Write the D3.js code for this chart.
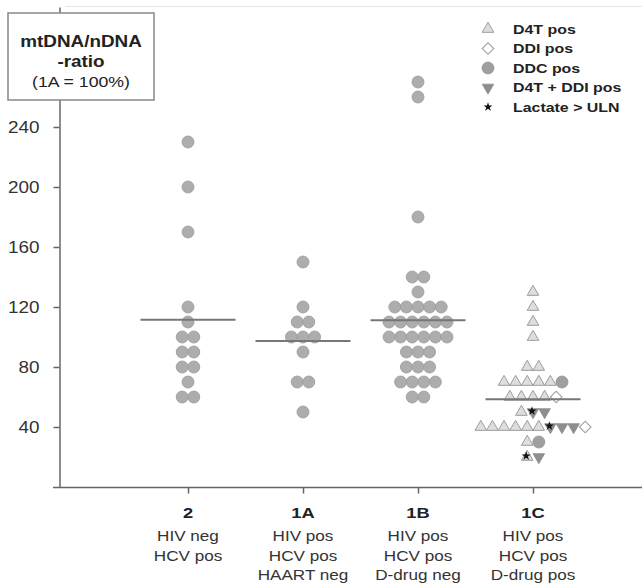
<!DOCTYPE html>
<html>
<head>
<meta charset="utf-8">
<script src="https://cdnjs.cloudflare.com/ajax/libs/d3/7.8.5/d3.min.js"></script>
<style>
  body { margin: 0; background: #fff; }
  svg { display: block; font-family: "Liberation Sans", Arial, sans-serif; }
</style>
</head>
<body>
<div id="chart"></div>
<script>
// categories + labels
const groups = ["2", "1A", "1B", "1C"]
const groupLines = [
  ["HIV neg", "HCV pos"],
  ["HIV pos", "HCV pos", "HAART neg"],
  ["HIV pos", "HCV pos", "D-drug neg"],
  ["HIV pos", "HCV pos", "D-drug pos"]
]
const yTicks = [40, 80, 120, 160, 200, 240]

// mtDNA/nDNA ratio per patient
const values2 = [230, 200, 170, 120, 110, 100, 100, 90, 90, 80, 80, 70, 60, 60]
const values1A = [150, 120, 110, 110, 100, 100, 100, 90, 70, 70, 50]
const values1B = [270, 260, 180, 140, 140, 130,
  120, 120, 120, 120, 120,
  110, 110, 110, 110, 110, 110,
  100, 100, 100, 100, 100, 100,
  90, 90, 90, 80, 80, 80, 70, 70, 70, 70, 60, 60]
const values1C = [130, 120, 110, 100, 80, 80,
  70, 70, 70, 70, 70, 70,
  60, 60, 60, 60, 60,
  50, 50, 50,
  40, 40, 40, 40, 40, 40, 40, 40, 40, 40,
  30, 30, 20, 20]
const drugs1C = ["d4t", "d4t", "d4t", "d4t", "d4t", "d4t",
  "d4t", "d4t", "d4t", "d4t", "d4t", "ddc",
  "d4t", "d4t", "d4t", "d4t", "ddi",
  "d4t", "both", "both",
  "d4t", "d4t", "d4t", "d4t", "d4t", "d4t", "both", "both", "both", "ddi",
  "d4t", "ddc", "d4t", "both"]
const lactate1C = [0, 0, 0, 0, 0, 0,
  0, 0, 0, 0, 0, 0,
  0, 0, 0, 0, 0,
  0, 1, 0,
  0, 0, 0, 0, 0, 0, 1, 0, 0, 0,
  0, 0, 1, 0]

const legendLabels = ["D4T pos", "DDI pos", "DDC pos", "D4T + DDI pos", "Lactate > ULN"]
const legendTypes = ["d4t", "ddi", "ddc", "both", "lactate"]

const width = 642, height = 584
const sx = 1.18   // the original text is a bit wider than Arial
const step = 11.6

const svg = d3.select("#chart").append("svg").attr("width", width).attr("height", height)

const y = d3.scaleLinear().domain([0, 320]).range([487, 7])
const x = d3.scalePoint().domain(groups).range([73, 648]).padding(1)

// faint top frame line
svg.append("line").attr("x1", 65).attr("x2", 642).attr("y1", 6.5).attr("y2", 6.5)
  .attr("stroke", "#e6e6e6")

// y axis
const yAxisG = svg.append("g").attr("transform", "translate(59.5,0)")
  .call(d3.axisLeft(y).tickValues(yTicks).tickSize(6).tickSizeOuter(0).tickPadding(14))
yAxisG.selectAll("path, line").attr("stroke", "#666").attr("stroke-width", 1.5)
yAxisG.selectAll("text")
  .attr("x", 0)
  .attr("transform", `translate(-20,0) scale(${sx},1)`)
  .attr("font-size", 16).attr("fill", "#333")
  .attr("font-family", "Liberation Sans, Arial, sans-serif")

// x axis
svg.append("line").attr("x1", 53).attr("x2", 642).attr("y1", 487.5).attr("y2", 487.5)
  .attr("stroke", "#666").attr("stroke-width", 1.5)
const xAxisG = svg.append("g").attr("transform", "translate(0,487.5)")
  .call(d3.axisBottom(x).tickSize(6).tickSizeOuter(0).tickFormat(""))
xAxisG.select(".domain").remove()
xAxisG.selectAll("line").attr("stroke", "#666").attr("stroke-width", 1.5)

// category labels
groups.forEach((g, i) => {
  svg.append("text").text(g)
    .attr("transform", `translate(${x(g)},518) scale(${sx},1)`)
    .attr("text-anchor", "middle").attr("font-weight", "bold")
    .attr("font-size", 15.5).attr("fill", "#222")
  groupLines[i].forEach((t, j) => {
    svg.append("text").text(t)
      .attr("transform", `translate(${x(g)},${541 + j * 19.5}) scale(${sx},1)`)
      .attr("text-anchor", "middle")
      .attr("font-size", 14.5).attr("fill", "#333")
  })
})

// build swarm points
const allValues = [values2, values1A, values1B, values1C]
let points = []
allValues.forEach((vals, gi) => {
  const g = groups[gi]
  const rows = d3.group(vals.map((v, i) => ({
    value: v,
    type: gi === 3 ? drugs1C[i] : "plain",
    lactate: gi === 3 ? lactate1C[i] : 0
  })), d => d.value)
  rows.forEach(row => {
    row.forEach((p, k) => {
      p.cx = x(g) + (k - (row.length - 1) / 2) * step
      p.cy = y(p.value)
      points.push(p)
    })
  })
})

const styles = {
  plain: {fill: "#adadad", stroke: "#9b9b9b"},
  d4t: {fill: "#dedede", stroke: "#9d9d9d"},
  ddi: {fill: "#fff", stroke: "#a0a0a0"},
  ddc: {fill: "#9f9f9f", stroke: "#939393"},
  both: {fill: "#8e8e8e", stroke: "#8e8e8e"},
  lactate: {fill: "#111", stroke: "none"}
}

const drawSymbol = (sel, type, cx, cy) => {
  const st = styles[type]
  if (type === "plain" || type === "ddc") {
    sel.append("circle").attr("cx", cx).attr("cy", cy).attr("r", 6)
      .attr("fill", st.fill).attr("stroke", st.stroke).attr("stroke-width", 0.8)
  } else if (type === "d4t") {
    sel.append("path").attr("d", d3.symbol(d3.symbolTriangle, 58)())
      .attr("transform", `translate(${cx},${cy})`)
      .attr("fill", st.fill).attr("stroke", st.stroke).attr("stroke-width", 1)
  } else if (type === "both") {
    sel.append("path").attr("d", d3.symbol(d3.symbolTriangle, 58)())
      .attr("transform", `translate(${cx},${cy}) rotate(180)`)
      .attr("fill", st.fill).attr("stroke", st.stroke).attr("stroke-width", 0.8)
  } else if (type === "ddi") {
    sel.append("path").attr("d", d3.symbol(d3.symbolSquare, 66)())
      .attr("transform", `translate(${cx},${cy}) rotate(45)`)
      .attr("fill", st.fill).attr("stroke", st.stroke).attr("stroke-width", 1.1)
  } else if (type === "lactate") {
    sel.append("path").attr("d", d3.symbol(d3.symbolStar, 26)())
      .attr("transform", `translate(${cx},${cy})`)
      .attr("fill", st.fill)
  }
}

const marks = svg.append("g")
points.forEach(p => drawSymbol(marks, p.type, p.cx, p.cy))
points.filter(p => p.lactate).forEach(p => drawSymbol(marks, "lactate", p.cx - 1, p.cy - 1))

// mean lines
allValues.forEach((vals, gi) => {
  const m = d3.mean(vals)
  svg.append("line")
    .attr("x1", x(groups[gi]) - 47.5).attr("x2", x(groups[gi]) + 47.5)
    .attr("y1", y(m)).attr("y2", y(m))
    .attr("stroke", "#777").attr("stroke-width", 2)
})

// legend
const legend = svg.append("g")
legendLabels.forEach((lab, i) => {
  const ly = 29 + i * 19.5
  drawSymbol(legend, legendTypes[i], 488, ly)
  legend.append("text").text(lab)
    .attr("transform", `translate(513,${ly + 4.8}) scale(${sx},1)`)
    .attr("font-weight", "bold").attr("font-size", 13.5).attr("fill", "#222")
})

// title box
const box = svg.append("g")
box.append("rect").attr("x", 8).attr("y", 13).attr("width", 146).attr("height", 87)
  .attr("fill", "#fff").attr("stroke", "#888").attr("stroke-width", 1.5)
const boxText = [["mtDNA/nDNA", 46.5, "bold", 16], ["-ratio", 67, "bold", 16], ["(1A = 100%)", 87, "normal", 15]]
boxText.forEach(([t, by, w, fs]) => {
  box.append("text").text(t)
    .attr("transform", `translate(81,${by}) scale(${sx},1)`)
    .attr("text-anchor", "middle").attr("font-weight", w)
    .attr("font-size", fs).attr("fill", "#222")
})
</script>
</body>
</html>
